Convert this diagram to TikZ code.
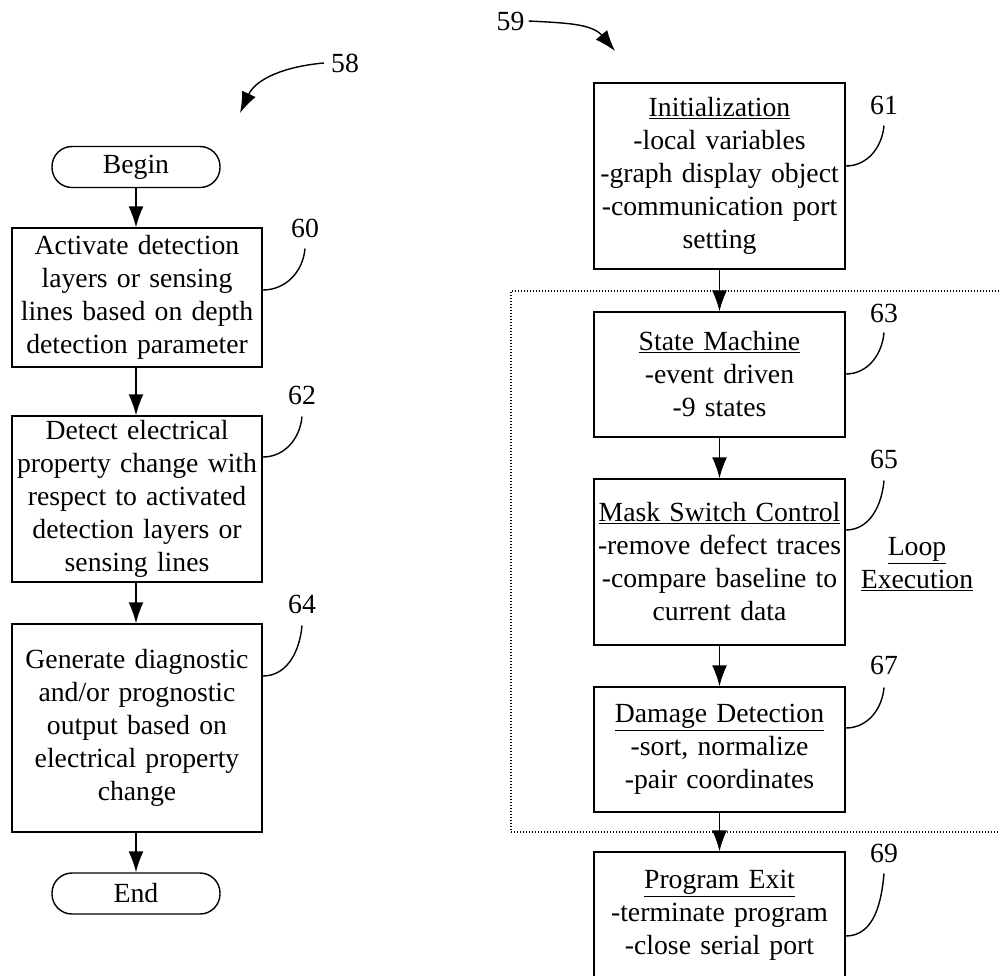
\documentclass[tikz,border=0pt]{standalone}
\usepackage{fontspec}
\setmainfont{Liberation Serif}
\usetikzlibrary{arrows.meta,calc}
\begin{document}
\begin{tikzpicture}[x=1pt,y=-1pt,
  txt/.style={font=\fontsize{27.7pt}{33pt}\selectfont},
  lbox/.style={txt, draw, line width=1.4pt, inner sep=0pt, align=center, text width=246pt, minimum width=250pt},
  rbox/.style={txt, draw, line width=1.4pt, inner sep=0pt, align=center, text width=247pt, minimum width=251pt},
  term/.style={txt, draw, line width=1.4pt, rounded corners=20pt, inner sep=0pt, minimum width=168pt, minimum height=41pt},
  num/.style={txt, inner sep=0pt},
  flow/.style={-{Latex[length=21pt,width=15pt]}, line width=1.4pt},
  lead/.style={line width=1.4pt},
  loopline/.style={draw, line width=1.2pt, dash pattern=on 1.2pt off 1.8pt, inner sep=0pt}
]
\useasboundingbox (0,0) rectangle (1000,975);
\clip (0,0) rectangle (1000,975);

% loop region
\node[loopline, minimum width=494pt, minimum height=541pt] (loop) at (758,561.5) {};

% left column
\node[term] (begin) at (136,167) {Begin};
\node[lbox, minimum height=139pt] (b60) at (137,297.5) {Activate detection\\layers or sensing\\lines based on depth\\detection parameter};
\node[lbox, minimum height=166pt] (b62) at (137,499) {Detect electrical\\property change with\\respect to activated\\detection layers or\\sensing lines};
\node[lbox, minimum height=208pt] (b64) at (137,728) {Generate diagnostic\\and/or prognostic\\output based on\\electrical property\\change};
\node[term] (end) at (136,893.5) {End};

\draw[flow] (begin.south) -- (begin.south |- b60.north);
\draw[flow] (b60.south -| begin.south) -- (begin.south |- b62.north);
\draw[flow] (b62.south -| begin.south) -- (begin.south |- b64.north);
\draw[flow] (b64.south -| begin.south) -- (end.north);

% right column
\node[rbox, minimum height=186pt] (init) at (719.5,176) {\underline{Initialization}\\-local variables\\-graph display object\\-communication port\\setting};
\node[rbox, minimum height=125pt] (sm) at (719.5,374.5) {\underline{State Machine}\\-event driven\\-9 states};
\node[rbox, minimum height=166pt] (msc) at (719.5,562) {\underline{Mask Switch Control}\\-remove defect traces\\-compare baseline to\\current data};
\node[rbox, minimum height=125pt] (dd) at (719.5,749.5) {\underline{Damage Detection}\\-sort, normalize\\-pair coordinates};
\node[rbox, minimum height=127pt] (pe) at (719.5,915.5) {\underline{Program Exit}\\-terminate program\\-close serial port};

\draw[flow] (init.south) -- (sm.north);
\draw[flow] (sm.south) -- (msc.north);
\draw[flow] (msc.south) -- (dd.north);
\draw[flow] (dd.south) -- (pe.north);

\node[txt, align=center, inner sep=0pt] (loopl) at (917,564) {\underline{Loop}\\\underline{Execution}};

% reference numerals
\node[num] (l60) at (305,228) {60};
\node[num] (l62) at (302,395) {62};
\node[num] (l64) at (302,604) {64};
\node[num] (l61) at (884,105) {61};
\node[num] (l63) at (884,313) {63};
\node[num] (l65) at (884,459) {65};
\node[num] (l67) at (884,665) {67};
\node[num] (l69) at (884,853) {69};

\draw[lead] ([yshift=-11pt]l60.south) to[out=-95,in=0] ([yshift=7.5pt]b60.east);
\draw[lead] ([yshift=-12pt]l62.south) to[out=-95,in=0] ([yshift=42pt]b62.east);
\draw[lead] ([yshift=-12pt]l64.south) to[out=-95,in=0] ([yshift=52pt]b64.east);
\draw[lead] ([yshift=-11pt]l61.south) to[out=-95,in=0] ([yshift=10pt]init.east);
\draw[lead] ([yshift=-10pt]l63.south) to[out=-95,in=0] ([yshift=0.5pt]sm.east);
\draw[lead] ([yshift=-12pt]l65.south) to[out=-95,in=0] ([yshift=32pt]msc.east);
\draw[lead] ([yshift=-13pt]l67.south) to[out=-95,in=0] ([yshift=21.5pt]dd.east);
\draw[lead] ([yshift=-11pt]l69.south) to[out=-95,in=0] ([yshift=-20.5pt]pe.east);

% figure arrows
\node[num] (l58) at (345,63) {58};
\coordinate (t58) at (240,113);
\draw[flow] ([xshift=-7pt]l58.west) to[out=185,in=65] (t58);

\node[num] (l59) at (510.5,21) {59};
\coordinate (t59) at (615,51);
\draw[flow] ([xshift=4pt]l59.east) to[out=-3,in=130] (t59);
\end{tikzpicture}
\end{document}
